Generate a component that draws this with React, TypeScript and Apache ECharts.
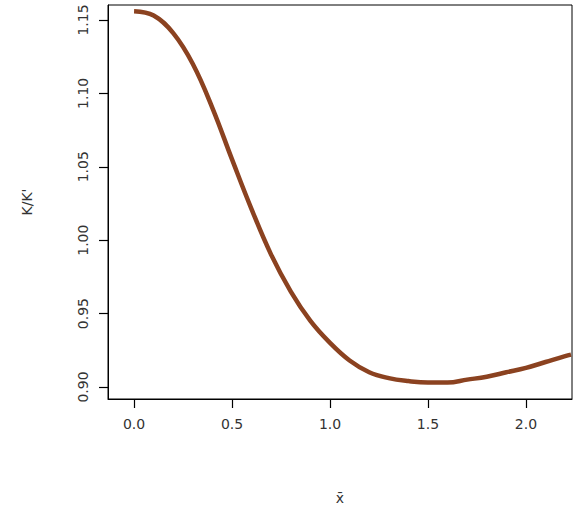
import { useEffect, useRef } from 'react';
import * as echarts from 'echarts';

const xValues = [0, 0.1, 0.2, 0.3, 0.4, 0.5, 0.6, 0.7, 0.8, 0.9, 1.0, 1.1, 1.2, 1.3, 1.4, 1.5, 1.6, 1.7, 1.8, 1.9, 2.0, 2.1, 2.2, 2.23];
const ratioValues = [1.156, 1.153, 1.141, 1.12, 1.09, 1.055, 1.021, 0.99, 0.965, 0.945, 0.93, 0.918, 0.91, 0.906, 0.904, 0.903, 0.903, 0.905, 0.907, 0.91, 0.913, 0.917, 0.921, 0.922];
const xTicks = [0, 0.5, 1.0, 1.5, 2.0];
const yTicks = [0.9, 0.95, 1.0, 1.05, 1.1, 1.15];

const X_MIN = -0.133;
const X_MAX = 2.235;
const Y_MIN = 0.8918;
const Y_MAX = 1.1602;

export default function App() {
  const ref = useRef<HTMLDivElement | null>(null);

  useEffect(() => {
    document.body.style.margin = '0';
    const el = ref.current;
    if (!el) return;
    const chart = echarts.init(el, undefined, { renderer: 'svg' });
    const font = { color: '#333', fontSize: 14, fontFamily: 'DejaVu Sans' };
    chart.setOption({
      animation: false,
      grid: { left: 108, right: 6, top: 5, bottom: 110, show: true, borderColor: '#000', borderWidth: 1, backgroundColor: 'transparent' },
      xAxis: {
        type: 'value',
        position: 'bottom',
        min: X_MIN,
        max: X_MAX,
        axisLine: { show: true, onZero: false, lineStyle: { color: '#000', width: 1 } },
        splitLine: { show: false },
        axisTick: { show: true, inside: false, length: 9, customValues: xTicks, lineStyle: { color: '#000', width: 1.2 } },
        axisLabel: { customValues: xTicks, margin: 18, ...font, formatter: (v: number) => v.toFixed(1) },
        name: 'x\u0304',
        nameLocation: 'middle',
        nameGap: 92,
        nameTextStyle: font,
      },
      yAxis: {
        type: 'value',
        position: 'left',
        min: Y_MIN,
        max: Y_MAX,
        axisLine: { show: true, onZero: false, lineStyle: { color: '#000', width: 1 } },
        splitLine: { show: false },
        axisTick: { show: true, inside: false, length: 9, customValues: yTicks, lineStyle: { color: '#000', width: 1.2 } },
        axisLabel: { customValues: yTicks, rotate: 90, margin: 18, ...font, formatter: (v: number) => v.toFixed(2) },
        name: "K/K'",
        nameLocation: 'middle',
        nameGap: 74,
        nameRotate: 90,
        nameTextStyle: font,
      },
      series: [
        {
          type: 'line',
          smooth: 0.4,
          showSymbol: false,
          data: xValues.map((x, i) => [x, ratioValues[i]]),
          lineStyle: { color: '#8B4220', width: 4.5 },
        },
      ],
    });

    return () => chart.dispose();
  }, []);

  return <div ref={ref} style={{ width: 578, height: 510 }} />;
}
